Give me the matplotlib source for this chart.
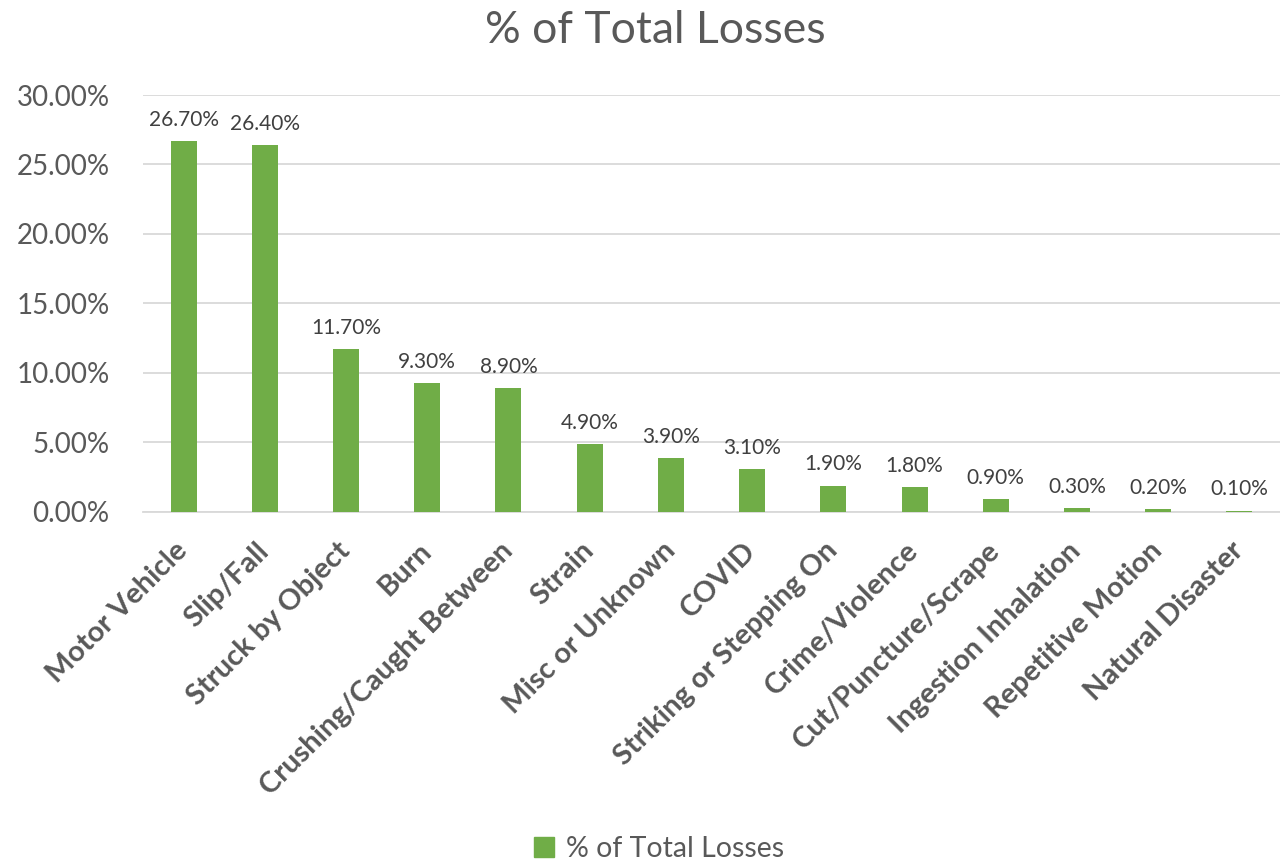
import matplotlib
matplotlib.use("Agg")
import matplotlib.pyplot as plt
from matplotlib.ticker import FuncFormatter, MultipleLocator
from matplotlib.patches import Patch

categories = [
    "Motor Vehicle", "Slip/Fall", "Struck by Object", "Burn",
    "Crushing/Caught Between", "Strain", "Misc or Unknown", "COVID",
    "Striking or Stepping On", "Crime/Violence", "Cut/Puncture/Scrape",
    "Ingestion Inhalation", "Repetitive Motion", "Natural Disaster",
]
pct_losses = [26.7, 26.4, 11.7, 9.3, 8.9, 4.9, 3.9, 3.1, 1.9, 1.8, 0.9, 0.3, 0.2, 0.1]

green = "#70AD47"
grey_text = "#595959"
plt.rcParams["font.family"] = ["Lato", "DejaVu Sans"]

fig = plt.figure(figsize=(12.8, 8.66), dpi=100)
ax = fig.add_axes([0.1117, 0.4088, 0.8883, 0.4815])

x = list(range(len(categories)))
bars = ax.bar(x, pct_losses, width=0.32, color=green, zorder=3)

for rect, v in zip(bars, pct_losses):
    ax.annotate(f"{v:.2f}%", (rect.get_x() + rect.get_width() / 2, v),
                xytext=(0, 8), textcoords="offset points",
                ha="center", va="bottom", fontsize=15, color="#404040")

ax.set_xlim(-0.5, len(categories) - 0.5)
ax.set_ylim(0, 30)
ax.yaxis.set_major_locator(MultipleLocator(5))
ax.yaxis.set_major_formatter(FuncFormatter(lambda v, p: f"{v:.2f}%"))
ax.grid(axis="y", color="#D9D9D9", linewidth=1.3, zorder=0)

for s in ["top", "right", "left"]:
    ax.spines[s].set_visible(False)
ax.spines["bottom"].set_color("#D9D9D9")
ax.spines["bottom"].set_linewidth(1.3)

ax.tick_params(axis="y", length=0, pad=24, labelsize=20, labelcolor=grey_text)
ax.tick_params(axis="x", length=0, pad=25)
ax.set_xticks(x)
ax.set_xticklabels(categories, rotation=45, ha="right", va="center",
                   rotation_mode="anchor",
                   fontsize=21, fontweight="bold", color=grey_text)

fig.text(0.512, 0.965, "% of Total Losses", ha="center", va="center",
         fontsize=32, color=grey_text)

fig.legend(handles=[Patch(color=green)], labels=["% of Total Losses"],
           loc="center", bbox_to_anchor=(0.515, 0.02), frameon=False,
           fontsize=20.5, labelcolor=grey_text, handlelength=0.7,
           handleheight=0.7, handletextpad=0.4)

fig.savefig("out.png", dpi=100)
